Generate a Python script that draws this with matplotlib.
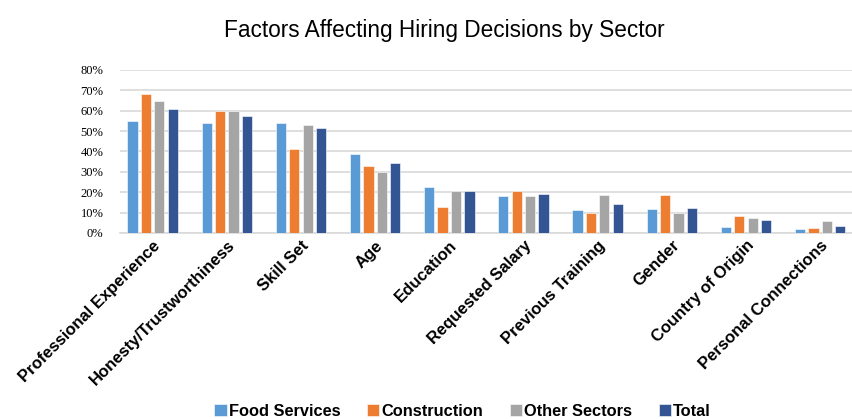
import matplotlib
matplotlib.use("Agg")
import matplotlib.pyplot as plt
import numpy as np
from matplotlib.ticker import PercentFormatter

categories = ["Professional Experience", "Honesty/Trustworthiness", "Skill Set", "Age",
              "Education", "Requested Salary", "Previous Training", "Gender",
              "Country of Origin", "Personal Connections"]
series_names = ["Food Services", "Construction", "Other Sectors", "Total"]
food = [55, 54, 54, 39, 22.5, 18.3, 11.4, 11.6, 3.0, 1.8]
construction = [68, 60, 41, 33, 12.6, 20.6, 10.0, 18.5, 8.2, 2.3]
other = [65, 60, 53, 30, 20.7, 18.3, 18.5, 10.0, 7.4, 5.9]
total = [61, 57.5, 51.5, 34.5, 20.7, 19.0, 14.0, 12.4, 6.4, 3.4]
yticks = [0, 10, 20, 30, 40, 50, 60, 70, 80]
colors = ["#5B9BD5", "#ED7D31", "#A5A5A5", "#335593"]

fig = plt.figure(figsize=(8.52, 4.19), dpi=100)
ax = fig.add_axes([0.141, 0.444, 0.859, 0.389])

x = np.arange(len(categories))
w = 0.138
step = 0.181
offs = [-1.5, -0.5, 0.5, 1.5]
for vals, name, c, o in zip([food, construction, other, total], series_names, colors, offs):
    ax.bar(x + o * step, vals, w, color=c, label=name, zorder=3,
           edgecolor="white", linewidth=0.4)

ax.set_xlim(-0.4385, 9.43)
ax.set_ylim(0, 80)
ax.set_yticks(yticks)
ax.yaxis.set_major_formatter(PercentFormatter(decimals=0))
ax.grid(axis="y", color="#D9D9D9", linewidth=1.2, zorder=0)
for s in ["top", "right", "left"]:
    ax.spines[s].set_visible(False)
ax.spines["bottom"].set_color("#D9D9D9")
ax.spines["bottom"].set_linewidth(1.2)
ax.tick_params(axis="both", length=0)
ax.tick_params(axis="y", pad=12)
for lab in ax.get_yticklabels():
    lab.set_fontfamily("Liberation Serif")
    lab.set_fontsize(9)
ax.set_xticks(x)
ax.set_xticklabels(categories, rotation=45, ha="right", va="top",
                   rotation_mode="anchor", fontsize=12, fontweight="bold",
                   fontfamily="Liberation Sans")

fig.suptitle("Factors Affecting Hiring Decisions by Sector", x=0.522, y=0.955,
             fontsize=16.3, fontfamily="Liberation Sans")

leg = fig.legend(loc="lower center", bbox_to_anchor=(0.543, -0.035), ncol=4,
                 frameon=False, prop={"family": "Liberation Sans", "weight": "bold", "size": 11.8},
                 handlelength=0.75, handleheight=0.75, handletextpad=0.15, columnspacing=1.6)

fig.savefig("out.png", dpi=100)
